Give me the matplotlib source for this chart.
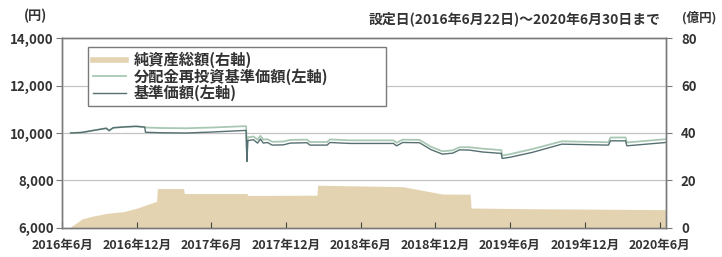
import numpy as np
import pandas as pd
import matplotlib
matplotlib.use("Agg")
import matplotlib.pyplot as plt
from matplotlib.lines import Line2D

plt.rcParams['font.family'] = ['Noto Sans CJK JP', 'DejaVu Sans']

# net assets (oku yen, right axis)
asset_dates = ['2016-06-22', '2016-07-05', '2016-07-20', '2016-08-15', '2016-09-20',
               '2016-10-30', '2016-11-30', '2016-12-25', '2017-01-18', '2017-01-20',
               '2017-03-25', '2017-03-27', '2017-08-27', '2017-08-29', '2018-02-14',
               '2018-02-16', '2018-06-01', '2018-09-12', '2018-12-18', '2019-02-24',
               '2019-02-26', '2019-08-01', '2020-06-30']
asset_vals = [0.5, 2.0, 3.8, 5.0, 6.2, 6.9, 8.3, 9.8, 11.2, 16.6,
              16.6, 14.5, 14.5, 13.7, 13.8, 18.0, 17.7, 17.4, 14.3, 14.2,
              8.4, 8.1, 7.7]

# NAV (yen, left axis)
nav_dates = ['2016-06-22', '2016-07-18', '2016-08-31', '2016-09-17', '2016-09-24',
             '2016-10-04', '2016-11-04', '2016-11-29', '2016-12-20', '2016-12-22',
             '2017-02-01', '2017-04-01', '2017-06-01', '2017-08-25', '2017-08-27',
             '2017-08-29', '2017-09-12', '2017-09-22', '2017-09-29', '2017-10-06',
             '2017-10-16', '2017-10-28', '2017-11-24', '2017-12-11', '2018-01-21',
             '2018-01-28', '2018-03-11', '2018-03-18', '2018-05-06', '2018-08-20',
             '2018-08-28', '2018-09-12', '2018-10-23', '2018-11-20', '2018-12-18',
             '2019-01-12', '2019-01-29', '2019-02-22', '2019-03-26', '2019-05-11',
             '2019-05-13', '2019-05-30', '2019-07-25', '2019-10-06', '2020-01-28',
             '2020-02-02', '2020-03-10', '2020-03-13', '2020-06-30']
nav_base = [10000, 10020, 10150, 10200, 10100, 10220, 10260, 10280, 10250, 10030,
            10010, 10000, 10040, 10110, 8800, 9680, 9715, 9575, 9745, 9575,
            9600, 9490, 9500, 9575, 9590, 9490, 9490, 9600, 9560, 9560,
            9460, 9600, 9590, 9300, 9110, 9150, 9290, 9280, 9200, 9140,
            8930, 8970, 9180, 9530, 9490, 9670, 9670, 9460, 9620]
nav_reinv = [10000, 10020, 10150, 10200, 10100, 10220, 10260, 10280, 10250, 10230,
             10210, 10200, 10230, 10290, 9000, 9820, 9850, 9720, 9880, 9720,
             9740, 9630, 9640, 9710, 9720, 9620, 9620, 9730, 9690, 9690,
             9590, 9720, 9710, 9420, 9230, 9270, 9400, 9400, 9340, 9280,
             9050, 9100, 9320, 9650, 9610, 9810, 9810, 9600, 9760]

xtick_dates = ['2016-06-01', '2016-12-01', '2017-06-01', '2017-12-01', '2018-06-01',
               '2018-12-01', '2019-06-01', '2019-12-01', '2020-06-01']
xtick_labels = ['2016年6月', '2016年12月', '2017年6月', '2017年12月', '2018年6月',
                '2018年12月', '2019年6月', '2019年12月', '2020年6月']

c_area = '#e3d3b1'
c_reinv = '#a8c8b4'
c_base = '#566f70'
c_axis = '#7a7a7a'
c_text = '#333333'

fig = plt.figure(figsize=(7.22, 2.57), dpi=100)
ax = fig.add_axes([0.086, 0.113, 0.836, 0.739])
ax2 = ax.twinx()

ax2.fill_between(pd.to_datetime(asset_dates), 0, asset_vals, color=c_area, lw=0)
ax2.set_ylim(0, 80)
ax2.set_yticks([0, 20, 40, 60, 80])

ax.set_zorder(ax2.get_zorder() + 1)
ax.patch.set_visible(False)

nd = pd.to_datetime(nav_dates)
ax.plot(nd, nav_reinv, color=c_reinv, lw=1.3)
ax.plot(nd, nav_base, color=c_base, lw=1.0)
ax.set_ylim(6000, 14000)
ax.set_yticks([6000, 8000, 10000, 12000, 14000])
ax.set_yticklabels(['6,000', '8,000', '10,000', '12,000', '14,000'])
for v in [8000, 10000, 12000]:
    ax.axhline(v, color='#c4c4c4', lw=0.9, zorder=0)

ax.set_xlim(pd.Timestamp('2016-06-08'), pd.Timestamp('2020-06-16'))
ax.set_xticks(pd.to_datetime(xtick_dates))
ax.set_xticklabels(xtick_labels)

for a in (ax, ax2):
    for s in a.spines.values():
        s.set_color(c_axis)
        s.set_linewidth(1.0)
ax.tick_params(axis='x', direction='in', length=4, color='#444444', labelsize=9,
               pad=8)
ax.tick_params(axis='y', direction='out', length=4, color=c_axis, labelsize=9.5, pad=2)
ax2.tick_params(axis='y', direction='out', length=4, color=c_axis, labelsize=9.5, pad=7)
for lab in ax.get_xticklabels() + ax.get_yticklabels() + ax2.get_yticklabels():
    lab.set_fontweight('bold')
    lab.set_color(c_text)

handles = [Line2D([], [], color=c_area, lw=4),
           Line2D([], [], color=c_reinv, lw=1.3),
           Line2D([], [], color=c_base, lw=1.0)]
leg = ax.legend(handles, ['純資産総額(右軸)', '分配金再投資基準価額(左軸)', '基準価額(左軸)'],
                loc='upper left', bbox_to_anchor=(0.043, 0.658, 0.493, 0.295),
                mode='expand', borderaxespad=0, fancybox=False, framealpha=1,
                edgecolor=c_axis, handlelength=2.2, handletextpad=0.5,
                labelspacing=0.0, borderpad=0.3,
                prop={'size': 11, 'weight': 'bold'})
leg.get_frame().set_linewidth(1.0)
for t in leg.get_texts():
    t.set_color(c_text)

fig.text(0.033, 0.92, '(円)', fontsize=9.5, fontweight='bold', color=c_text)
fig.text(0.944, 0.915, '(億円)', fontsize=9, fontweight='bold', color=c_text)
fig.text(0.915, 0.91, '設定日(2016年6月22日)〜2020年6月30日まで', fontsize=10,
         fontweight='bold', color=c_text, ha='right')

fig.savefig('out.png', dpi=100)
